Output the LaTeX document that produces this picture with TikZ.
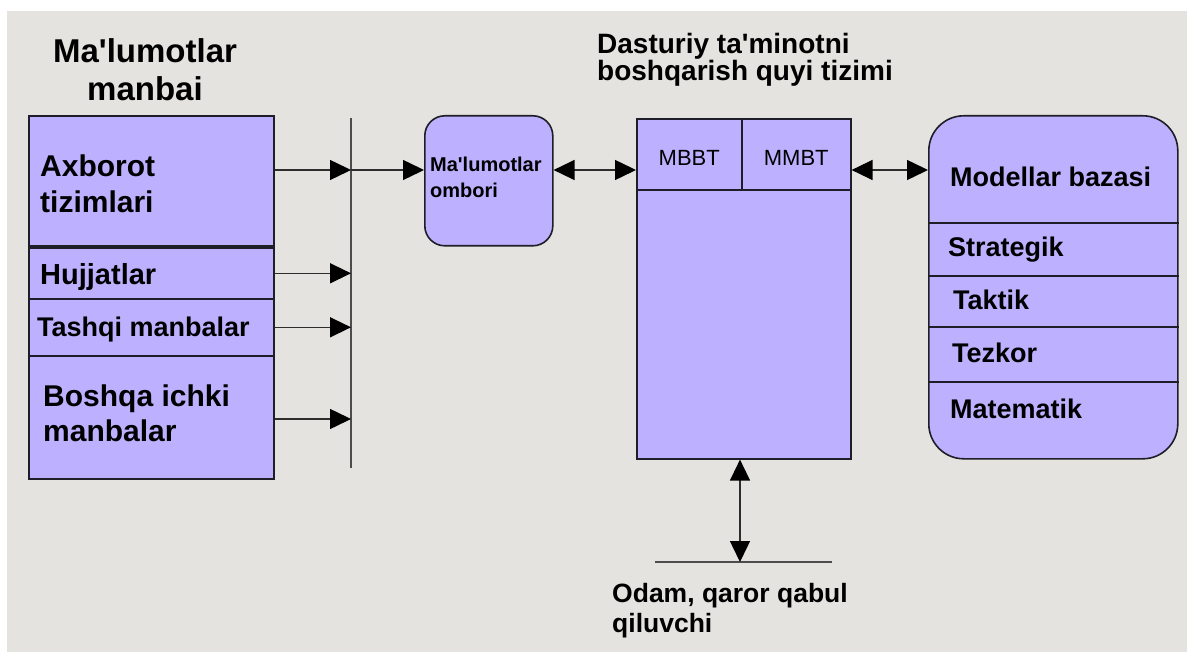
\documentclass[tikz,border=0pt]{standalone}
\usepackage{fontspec}
\setmainfont{Liberation Sans}
\usetikzlibrary{arrows.meta,calc}
\definecolor{bggray}{RGB}{228,227,223}
\definecolor{boxfill}{RGB}{189,177,255}
\definecolor{edge}{RGB}{30,30,40}
\definecolor{wire}{RGB}{45,45,45}
\tikzset{
  cell/.style={draw=edge, fill=boxfill, line width=1.6pt, inner sep=0pt, anchor=north west},
  lbl/.style={inner sep=0pt, font=\bfseries, text=black},
  wireline/.style={draw=wire, line width=1.5pt},
  arr/.style={wireline, -{Triangle[length=21pt,width=20pt,color=black]}},
  darr/.style={wireline, {Triangle[length=21pt,width=20pt,color=black]}-{Triangle[length=21pt,width=20pt,color=black]}},
}
\begin{document}
\begin{tikzpicture}[x=1pt,y=-1pt]
\useasboundingbox (0,0) rectangle (1187,652);
\fill[white] (0,0) rectangle (1187,652);
\fill[bggray] (7,11) rectangle (1187,652);

% left stack
\node[cell, minimum width=245pt, minimum height=130pt] (axb) at (28,115) {};
\node[cell, minimum width=245pt, minimum height=51pt] (huj) at (28,247) {};
\node[cell, minimum width=245pt, minimum height=57pt] (tash) at (28,298) {};
\node[cell, minimum width=245pt, minimum height=123pt] (bosh) at (28,355) {};

\node[lbl, anchor=north, align=center, font=\bfseries\fontsize{33}{38}\selectfont] (t1) at (145,38) {Ma\textquotesingle lumotlar\\manbai};
\node[lbl, anchor=north west, align=left, font=\bfseries\fontsize{30}{36}\selectfont] (t2) at (40,155) {Axborot\\tizimlari};
\node[lbl, anchor=base west, font=\bfseries\fontsize{29}{34}\selectfont] (t3) at (40,285) {Hujjatlar};
\node[lbl, anchor=base west, font=\bfseries\fontsize{27}{32}\selectfont] (t4) at (37,337) {Tashqi manbalar};
\node[lbl, anchor=north west, align=left, font=\bfseries\fontsize{30}{35}\selectfont] (t5) at (43,385) {Boshqa ichki\\manbalar};

% bus
\coordinate (bt) at (351,118);
\coordinate (bb) at (351,468);
\draw[draw=wire!85, line width=2pt] (bt) -- (bb);
\coordinate (r1) at (0,170);

% ombori
\node[cell, rounded corners=20pt, minimum width=128pt, minimum height=130pt] (omb) at (424,115) {};
\node[lbl, anchor=north west, align=left, font=\bfseries\fontsize{20}{26}\selectfont] (t6) at (430,157) {Ma\textquotesingle lumotlar\\ombori};

% main box
\node[cell, minimum width=214pt, minimum height=340pt] (main) at (636,118) {};
\node[cell, minimum width=105pt, minimum height=71pt, text height=23pt, text depth=0pt, font=\fontsize{22}{26}\selectfont] (mbbt) at (636,118) {MBBT};
\node[cell, minimum width=109pt, minimum height=71pt, text height=23pt, text depth=0pt, font=\fontsize{22}{26}\selectfont] (mmbt) at (741,118) {MMBT};
\node[lbl, anchor=north west, align=left, font=\bfseries\fontsize{28}{27}\selectfont] (t7) at (597,33) {Dasturiy ta\textquotesingle minotni\\boshqarish quyi tizimi};

% modellar
\node[cell, rounded corners=35pt, minimum width=249pt, minimum height=343pt] (mod) at (928,115) {};
\foreach \yy in {223,276,327,382}{
  \draw[draw=edge, line width=1.4pt] (mod.west |- 0,\yy) -- (mod.east |- 0,\yy);
}
\node[lbl, anchor=base west, font=\bfseries\fontsize{27}{32}\selectfont] (m1) at (950,187) {Modellar bazasi};
\node[lbl, anchor=base west, font=\bfseries\fontsize{27}{32}\selectfont] (m2) at (948,257) {Strategik};
\node[lbl, anchor=base west, font=\bfseries\fontsize{27}{32}\selectfont] (m3) at (953,310) {Taktik};
\node[lbl, anchor=base west, font=\bfseries\fontsize{27}{32}\selectfont] (m4) at (952,363) {Tezkor};
\node[lbl, anchor=base west, font=\bfseries\fontsize{27}{32}\selectfont] (m5) at (950,418) {Matematik};

% bottom
\coordinate (hl) at (655,562);
\coordinate (hr) at (832,562);
\draw[draw=wire!85, line width=1.6pt] (hl) -- (hr);
\coordinate (bx) at (740,0);
\node[lbl, anchor=north west, align=left, font=\bfseries\fontsize{26.5}{30}\selectfont] (t8) at (612,583) {Odam, qaror qabul\\qiluvchi};

% connectors
\draw[arr] (axb.east |- r1) -- (bt |- r1);
\draw[arr] (huj.east) -- (bt |- huj.east);
\draw[arr] (tash.east) -- (bt |- tash.east);
\draw[arr] (bosh.east |- 0,419) -- (bt |- 0,419);
\draw[arr] (bt |- r1) -- (omb.west |- r1);
\draw[darr] (omb.east |- r1) -- (main.west |- r1);
\draw[darr] (main.east |- r1) -- (mod.west |- r1);
\draw[darr] (main.south -| bx) -- (hl -| bx);
\end{tikzpicture}
\end{document}
